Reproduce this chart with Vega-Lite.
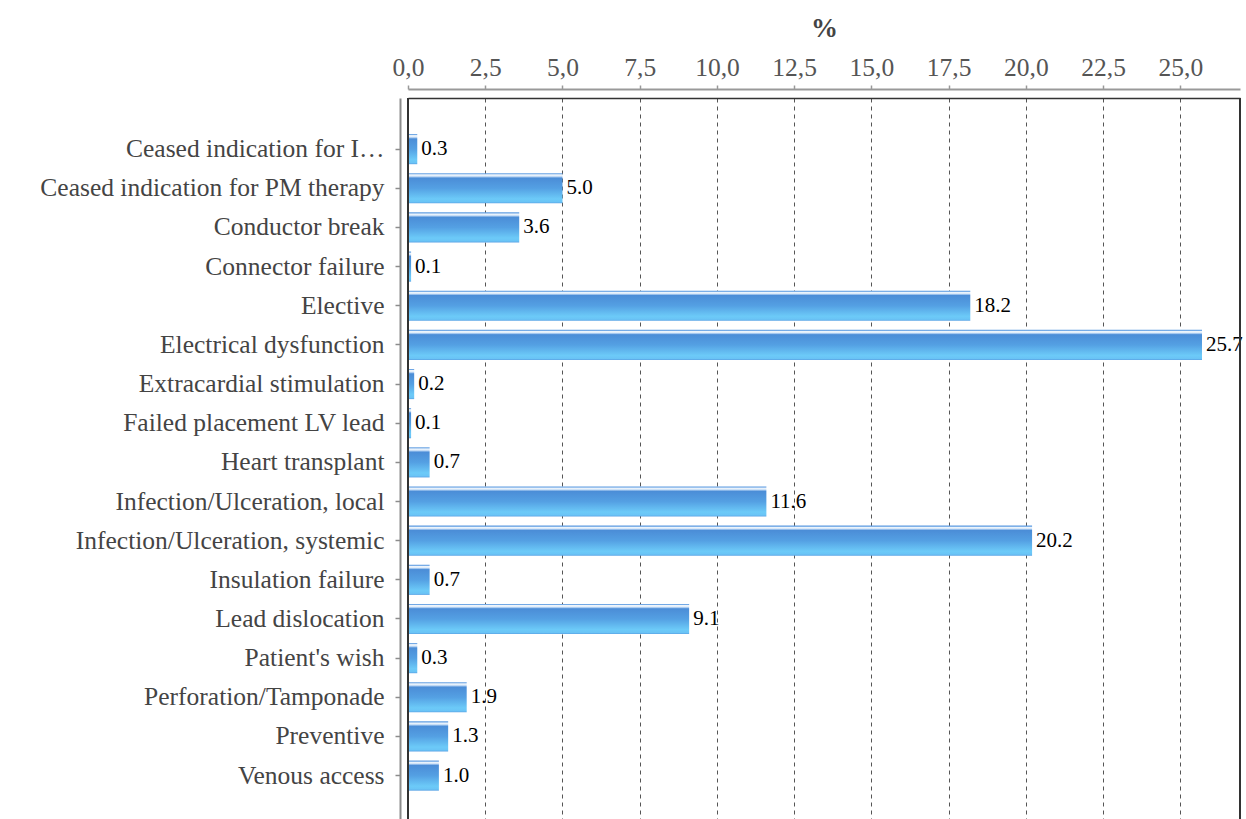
{
  "$schema": "https://vega.github.io/schema/vega-lite/v6.json",
  "width": 832,
  "height": 721,
  "autosize": {"type": "none"},
  "padding": {"left": 408, "top": 98, "right": 6, "bottom": 0},
  "background": "white",
  "config": {
    "view": {"stroke": null},
    "font": "Liberation Serif"
  },
  "data": {
    "values": [
      {"reason": "Ceased indication for I…", "pct": 0.3},
      {"reason": "Ceased indication for PM therapy", "pct": 5.0},
      {"reason": "Conductor break", "pct": 3.6},
      {"reason": "Connector failure", "pct": 0.1},
      {"reason": "Elective", "pct": 18.2},
      {"reason": "Electrical dysfunction", "pct": 25.7},
      {"reason": "Extracardial stimulation", "pct": 0.2},
      {"reason": "Failed placement LV lead", "pct": 0.1},
      {"reason": "Heart transplant", "pct": 0.7},
      {"reason": "Infection/Ulceration, local", "pct": 11.6},
      {"reason": "Infection/Ulceration, systemic", "pct": 20.2},
      {"reason": "Insulation failure", "pct": 0.7},
      {"reason": "Lead dislocation", "pct": 9.1},
      {"reason": "Patient's wish", "pct": 0.3},
      {"reason": "Perforation/Tamponade", "pct": 1.9},
      {"reason": "Preventive", "pct": 1.3},
      {"reason": "Venous access", "pct": 1.0}
    ]
  },
  "layer": [
    {
      "mark": {
        "type": "bar",
        "color": {
          "gradient": "linear",
          "x1": 0, "y1": 0, "x2": 0, "y2": 1,
          "stops": [
            {"offset": 0, "color": "#5b9ae0"},
            {"offset": 0.03, "color": "#7eb0e8"},
            {"offset": 0.05, "color": "#eef5fc"},
            {"offset": 0.09, "color": "#e2eefa"},
            {"offset": 0.12, "color": "#a9cbf1"},
            {"offset": 0.16, "color": "#4b8dd7"},
            {"offset": 0.5, "color": "#54a0e3"},
            {"offset": 0.85, "color": "#6ccaf8"},
            {"offset": 0.95, "color": "#6ac4f6"},
            {"offset": 1, "color": "#5aa2e4"}
          ]
        }
      },
      "encoding": {
        "y": {
          "field": "reason",
          "type": "nominal",
          "sort": null,
          "scale": {"paddingInner": 0.23, "paddingOuter": 0.822, "align": 0.56},
          "axis": {
            "title": null,
            "offset": 8,
            "domainColor": "#8c8c8c",
            "domainWidth": 2,
            "tickColor": "#8c8c8c",
            "tickSize": 5,
            "tickWidth": 1.5,
            "labelPadding": 11,
            "labelFont": "Liberation Serif",
            "labelFontSize": 25.5,
            "labelColor": "#444444",
            "labelLimit": 500
          }
        },
        "x": {
          "field": "pct",
          "type": "quantitative",
          "scale": {"domain": [0, 26.93], "nice": false, "zero": true},
          "axis": {
            "orient": "top",
            "offset": 9,
            "values": [0, 2.5, 5, 7.5, 10, 12.5, 15, 17.5, 20, 22.5, 25],
            "labelExpr": "replace(format(datum.value, '.1f'), '.', ',')",
            "labelFont": "Liberation Serif",
            "labelFontSize": 25.5,
            "labelColor": "#555555",
            "labelPadding": 5,
            "labelFlush": false,
            "domainColor": "#999999",
            "domainWidth": 2,
            "tickColor": "#999999",
            "tickSize": 4,
            "tickWidth": 1.5,
            "grid": true,
            "gridColor": "#555555",
            "gridDash": [4, 4],
            "gridWidth": 1,
            "title": "%",
            "titleFont": "Liberation Serif",
            "titleFontSize": 27,
            "titleFontWeight": "bold",
            "titleColor": "#444444",
            "titlePadding": 13
          }
        }
      }
    },
    {
      "mark": {"type": "text", "align": "left", "baseline": "middle", "dx": 4, "font": "Liberation Serif", "fontSize": 21, "color": "#000000"},
      "encoding": {
        "y": {"field": "reason", "type": "nominal", "sort": null},
        "x": {"field": "pct", "type": "quantitative", "scale": {"domain": [0, 26.93], "nice": false, "zero": true}, "axis": null},
        "text": {"field": "pct", "type": "quantitative", "format": ".1f"}
      }
    },
    {
      "mark": {"type": "rule", "color": "#333333", "strokeWidth": 1.5},
      "encoding": {
        "x": {
          "datum": 0,
          "type": "quantitative",
          "scale": {"domain": [0, 26.93], "nice": false, "zero": true},
          "axis": {"orient": "top", "offset": 0, "domainColor": "#333333", "domainWidth": 1.5, "labels": false, "ticks": false, "grid": false, "title": null}
        }
      }
    },
    {
      "mark": {"type": "rule", "color": "#333333", "strokeWidth": 1.5},
      "encoding": {
        "x": {
          "datum": 26.93,
          "type": "quantitative",
          "scale": {"domain": [0, 26.93], "nice": false, "zero": true},
          "axis": null
        }
      }
    }
  ],
  "resolve": {"axis": {"x": "independent"}}
}
